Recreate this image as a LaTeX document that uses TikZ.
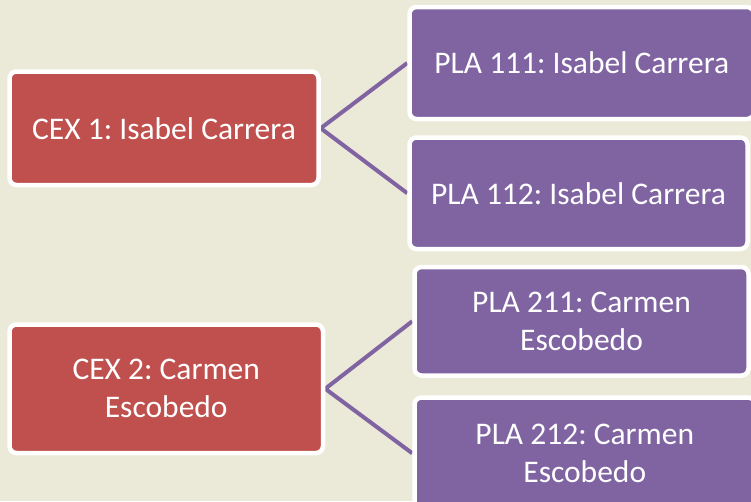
\documentclass[tikz,border=0pt]{standalone}
\usepackage{fontspec}
\setmainfont{Carlito}
\usetikzlibrary{backgrounds}
\definecolor{bgtan}{RGB}{235,233,216}
\definecolor{cexred}{HTML}{C0504D}
\definecolor{plapurple}{HTML}{8064A2}
\frenchspacing
\tikzset{
  basebox/.style={draw=white, line width=4.5pt, rounded corners=7pt, text=white,
    inner sep=0pt, align=center, font=\frenchspacing\fontsize{31.5}{38}\selectfont},
  cexbox/.style={basebox, fill=cexred},
  plabox/.style={basebox, fill=plapurple},
  link/.style={draw=plapurple, line width=4pt}
}
\begin{document}
\begin{tikzpicture}[x=1pt,y=-1pt]
\useasboundingbox (0,0) rectangle (751,501);
\clip (0,0) rectangle (751,501);
\node[cexbox, minimum width=309pt, minimum height=113.5pt] (c1) at (164,128.25) {CEX 1: Isabel Carrera};
\node[cexbox, minimum width=313.5pt, minimum height=128.5pt] (c2) at (166.25,388.75) {CEX 2: Carmen\\Escobedo};
\node[plabox, minimum width=344.5pt, minimum height=112pt] (p111) at (581.75,63) {PLA 111: Isabel Carrera};
\node[plabox, minimum width=338pt, minimum height=111.5pt] (p112) at (578.5,193.25) {PLA 112: Isabel Carrera};
\node[plabox, minimum width=334pt, minimum height=108.5pt] (p211) at (581.5,321.25) {PLA 211: Carmen\\Escobedo};
\node[plabox, minimum width=340.5pt, minimum height=111.5pt] (p212) at (584.75,453.25) {PLA 212: Carmen\\Escobedo};
\begin{scope}[on background layer]
\fill[bgtan] (0,0) rectangle (751,501);
\draw[link] (p111.west) -- (c1.east) -- (p112.west);
\draw[link] (p211.west) -- (c2.east) -- (p212.west);
\end{scope}
\end{tikzpicture}
\end{document}
